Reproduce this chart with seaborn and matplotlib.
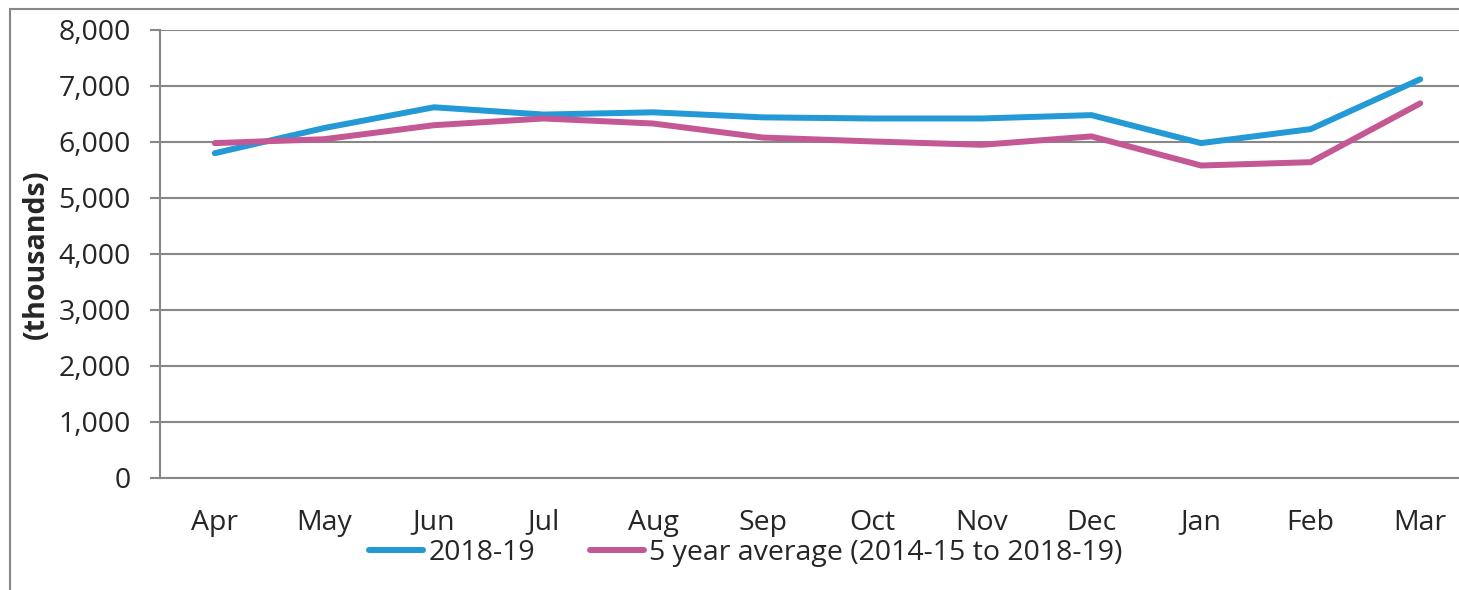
import pandas as pd
import matplotlib.pyplot as plt
import seaborn as sns
from matplotlib.patches import Rectangle
from matplotlib.ticker import FuncFormatter, FixedLocator

months = ['Apr', 'May', 'Jun', 'Jul', 'Aug', 'Sep', 'Oct', 'Nov', 'Dec', 'Jan', 'Feb', 'Mar']
current_year = [5800, 6250, 6620, 6490, 6530, 6440, 6420, 6420, 6480, 5980, 6230, 7120]
five_year_avg = [5980, 6050, 6300, 6420, 6330, 6080, 6010, 5950, 6100, 5580, 5640, 6690]
series_names = ['2018-19', '5 year average (2014-15 to 2018-19)']
colors = ['#2399D5', '#C45894']

df = pd.DataFrame({
    'month': months * 2,
    'value': current_year + five_year_avg,
    'series': [series_names[0]] * 12 + [series_names[1]] * 12,
})

sns.set_style('white')
plt.rcParams['font.family'] = ['Open Sans', 'DejaVu Sans']
fs = 20.5

fig = plt.figure(figsize=(14.59, 5.90), dpi=100)
ax = fig.add_axes([160 / 1459, 1 - 478 / 590, 1315 / 1459, 448 / 590])

sns.lineplot(ax=ax, data=df, x='month', y='value', hue='series',
             palette=colors, linewidth=4.3, sort=False, legend=True)
for line in ax.lines:
    line.set_solid_capstyle('round')
    line.set_solid_joinstyle('miter')

# axes look
ax.set_xlim(-0.5, 11.5)
ax.set_ylim(0, 8000)
ax.set_yticks(range(0, 8001, 1000))
ax.yaxis.set_major_formatter(FuncFormatter(lambda v, p: f'{int(v):,}'))
ax.grid(axis='y', color='#878787', linewidth=1.5)
ax.set_axisbelow(True)
for side in ['top', 'right']:
    ax.spines[side].set_visible(False)
for side in ['left', 'bottom']:
    ax.spines[side].set_color('#878787')
    ax.spines[side].set_linewidth(1.5)

ax.set_xticks(range(12))
ax.set_xticklabels(months)
ax.xaxis.set_minor_locator(FixedLocator([i - 0.5 for i in range(13)]))
ax.tick_params(axis='x', which='major', length=0, pad=22, labelsize=fs)
ax.tick_params(axis='x', which='minor', length=7, width=1.5, color='#878787', direction='out')
ax.tick_params(axis='y', which='major', length=7, width=1.5, color='#878787',
               direction='out', labelsize=fs, pad=14, left=True)

ax.set_xlabel('')
ax.set_ylabel('(thousands)', fontsize=fs, fontweight='bold', labelpad=4)
ax.yaxis.set_label_coords(-0.083, 0.5)

handles, labels = ax.get_legend_handles_labels()
ax.legend(handles, labels, loc='center', bbox_to_anchor=(746 / 1459, 1 - 553 / 590),
          bbox_transform=fig.transFigure, ncol=2, frameon=False, fontsize=fs,
          handlelength=1.9, handletextpad=0.2, columnspacing=1.9, borderpad=0)

# chart outer border
fig.patches.append(Rectangle((10 / 1459, -0.1), 1.2, 1.1 - 9 / 590,
                             transform=fig.transFigure, fill=False,
                             edgecolor='#878787', linewidth=1.5))

fig.savefig('out.png', dpi=100)
